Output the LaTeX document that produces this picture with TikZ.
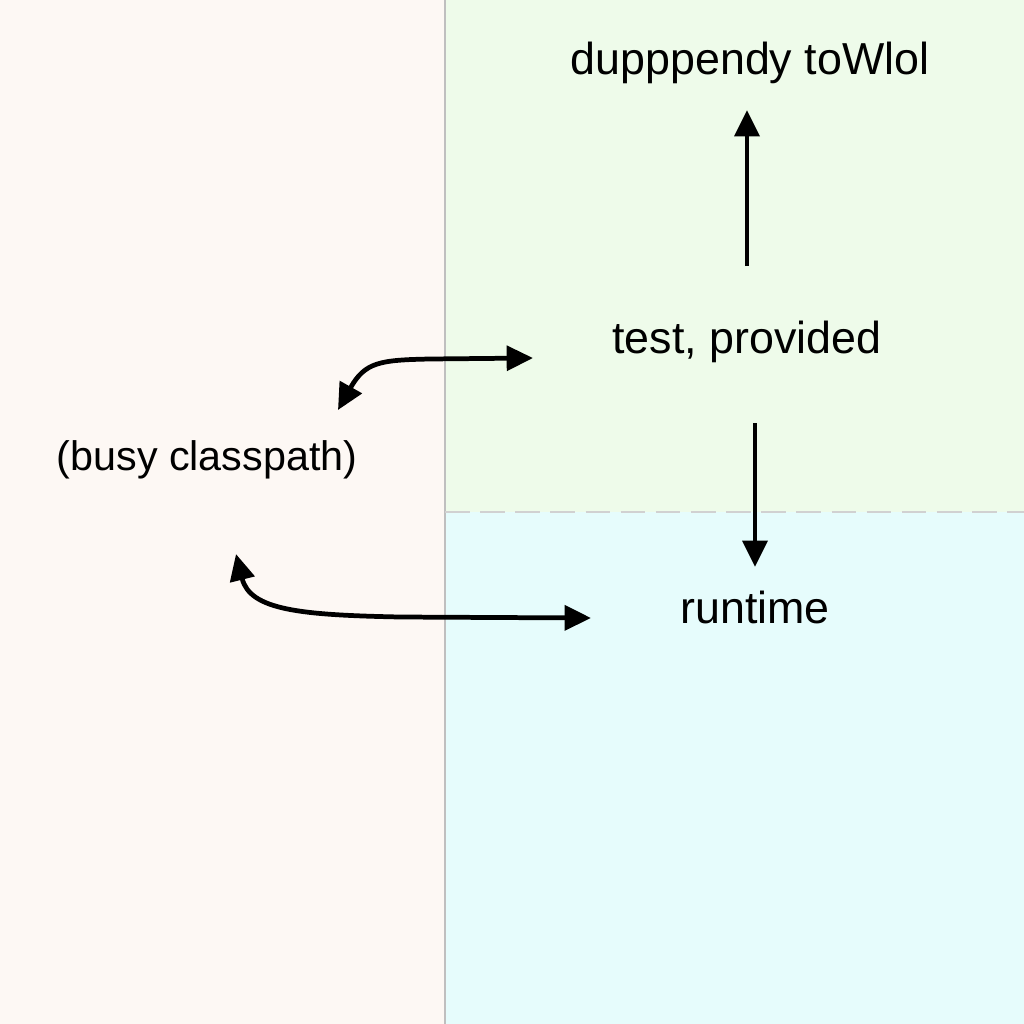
\documentclass[tikz,border=0pt]{standalone}
\usepackage{fontspec}
\setmainfont{Liberation Sans}
\usetikzlibrary{arrows.meta}
\definecolor{leftbg}{HTML}{FDF8F4}
\definecolor{greenbg}{HTML}{EEFBEA}
\definecolor{cyanbg}{HTML}{E6FCFC}
\tikzset{
  lbl/.style={inner sep=0pt, font=\fontsize{25.5}{30}\selectfont, text=black},
  conn/.style={line width=2.7pt, draw=black, -{Triangle[length=15pt,width=14pt]}},
  dconn/.style={line width=2.7pt, draw=black, {Triangle[length=15pt,width=14pt]}-{Triangle[length=15pt,width=14pt]}},
}
\begin{document}
\begin{tikzpicture}[x=0.02cm,y=-0.02cm]
\useasboundingbox (0,0) rectangle (1024,1024);
\fill[leftbg] (0,0) rectangle (445,1024);
\fill[greenbg] (445,0) rectangle (1024,512);
\fill[cyanbg] (445,512) rectangle (1024,1024);
\draw[black!25, line width=0.6pt] (445,0) -- (445,1024);
\draw[black!18, line width=0.6pt, dash pattern=on 14pt off 6pt] (445,512) -- (1024,512);

\node[lbl] (dep) at (750,63) {dupppendy toWlol};
\node[lbl] (test) at (747,342) {test, provided};
\node[lbl, font=\fontsize{23.5}{28}\selectfont] (busy) at (207,460) {(busy classpath)};
\node[lbl] (run) at (755,607) {runtime};

\coordinate (a1s) at (747,266);
\coordinate (a1e) at (747,110);
\coordinate (a2s) at (755,423);
\coordinate (a2e) at (755,567);
\coordinate (u1) at (338,410);
\coordinate (u2) at (533,358);
\coordinate (l1) at (236,554);
\coordinate (l2) at (591,618);

\draw[conn] (a1s) -- (a1e);
\draw[conn] (a2s) -- (a2e);
\draw[dconn] (u1) .. controls (365,362) and (380,360) .. (430,359) -- (u2);
\draw[dconn] (l1) .. controls (250,610) and (300,615) .. (400,617) -- (l2);
\end{tikzpicture}
\end{document}
